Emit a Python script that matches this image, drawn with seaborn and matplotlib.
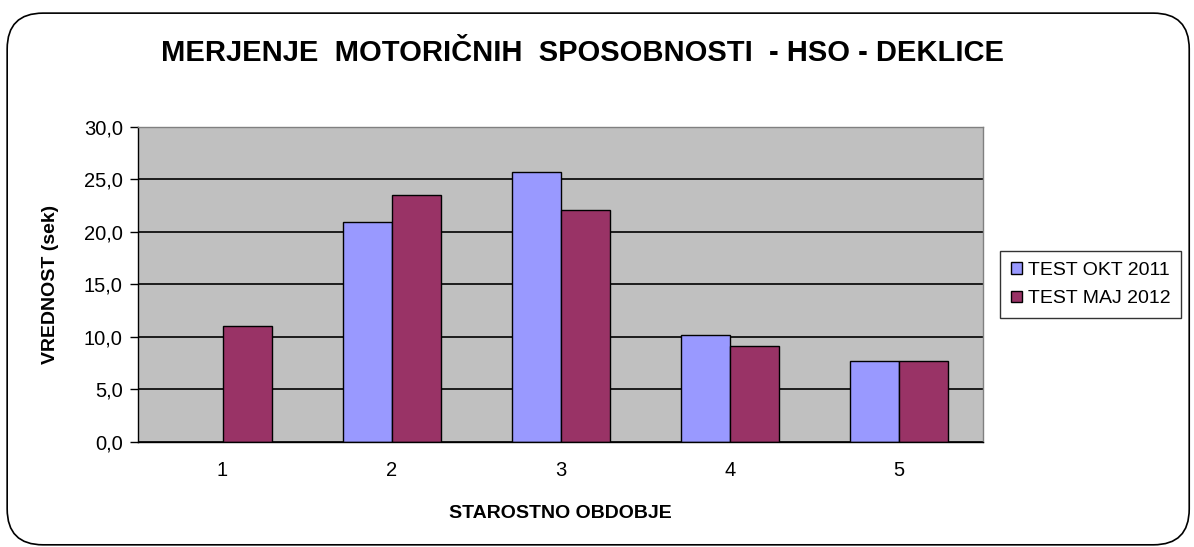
import numpy as np
import pandas as pd
import seaborn as sns
import matplotlib.pyplot as plt
from matplotlib.patches import FancyBboxPatch
from matplotlib.ticker import FuncFormatter, FixedLocator

# podatki
obdobja = ["1", "2", "3", "4", "5"]
test_okt_2011 = [np.nan, 20.9, 25.7, 10.2, 7.7]
test_maj_2012 = [11.0, 23.5, 22.1, 9.1, 7.7]
serije = ["TEST OKT 2011", "TEST MAJ 2012"]
barve = ["#9999FF", "#993366"]

df = pd.DataFrame({
    "obdobje": obdobja * 2,
    "vrednost": test_okt_2011 + test_maj_2012,
    "serija": [serije[0]] * 5 + [serije[1]] * 5,
})

sns.set_style("white")
plt.rcParams["font.family"] = ["Liberation Sans", "DejaVu Sans"]
plt.rcParams["text.color"] = "black"
plt.rcParams["axes.labelcolor"] = "black"
plt.rcParams["xtick.color"] = "black"
plt.rcParams["ytick.color"] = "black"

fig = plt.figure(figsize=(11.94, 5.47), dpi=100)
ax = fig.add_axes([0.1156, 0.192, 0.708, 0.576])

# zaobljen okvir okoli grafa
okvir = FancyBboxPatch((0.006, 0.004), 0.99, 0.972, boxstyle="round,pad=0,rounding_size=0.03",
                       transform=fig.transFigure, fill=False, edgecolor="black", linewidth=1.2,
                       mutation_aspect=1194 / 547)
fig.patches.append(okvir)

sns.barplot(data=df, x="obdobje", y="vrednost", hue="serija", order=obdobja,
            hue_order=serije, palette=barve, width=0.58, edgecolor="black",
            linewidth=1.0, saturation=1, ax=ax, legend=True)

ax.set_facecolor("#C0C0C0")
ax.set_ylim(0, 30)
ax.set_xlim(-0.5, 4.5)
ax.set_yticks(np.arange(0, 31, 5))
ax.yaxis.set_major_formatter(FuncFormatter(lambda v, p: f"{v:.1f}".replace(".", ",")))
ax.yaxis.grid(True, color="black", linewidth=1.2)
ax.set_axisbelow(True)

# kljukice med kategorijami
ax.xaxis.set_minor_locator(FixedLocator(np.arange(-0.5, 5, 1)))
ax.tick_params(axis="x", which="major", length=0, labelsize=14.5, pad=14)
ax.tick_params(axis="x", which="minor", length=7, width=1, color="black", direction="out")
ax.tick_params(axis="y", length=6, width=1, color="black", direction="out", labelsize=14.5,
               pad=5, left=True)

for s in ["top", "right"]:
    ax.spines[s].set_color("#808080")
    ax.spines[s].set_linewidth(1.0)
for s in ["left", "bottom"]:
    ax.spines[s].set_color("black")
    ax.spines[s].set_linewidth(1.0)

ax.set_xlabel("STAROSTNO OBDOBJE", fontsize=14, fontweight="bold", labelpad=18)
ax.set_ylabel("VREDNOST (sek)", fontsize=14, fontweight="bold", labelpad=18)
fig.text(0.488, 0.903, "MERJENJE  MOTORIČNIH  SPOSOBNOSTI  - HSO - DEKLICE",
         fontsize=21, fontweight="bold", ha="center", va="center")

leg = ax.legend(loc="center left", bbox_to_anchor=(1.02, 0.5), frameon=True, fancybox=False,
                fontsize=14, handlelength=0.55, handleheight=0.55, handletextpad=0.3,
                borderpad=0.55, labelspacing=0.6, borderaxespad=0)
leg.get_frame().set_edgecolor("black")
leg.get_frame().set_linewidth(1.0)

fig.savefig("out.png", dpi=100)
